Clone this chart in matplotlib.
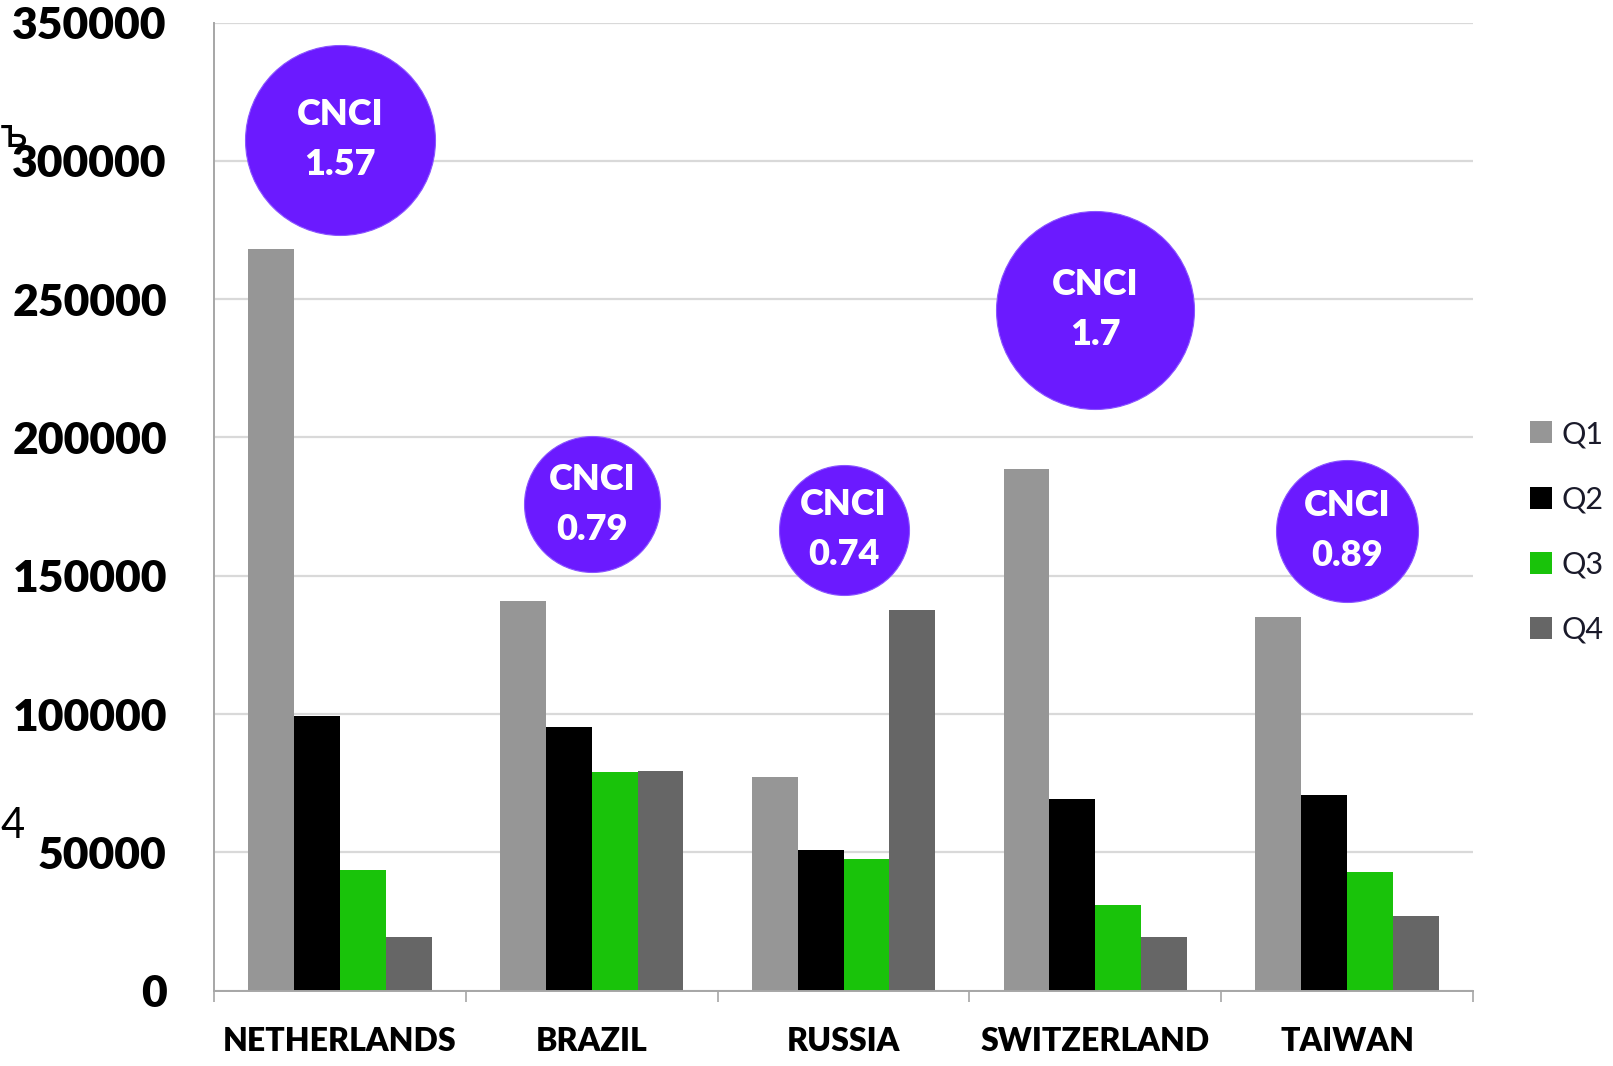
import numpy as np
import matplotlib.pyplot as plt

countries = ["NETHERLANDS", "BRAZIL", "RUSSIA", "SWITZERLAND", "TAIWAN"]
series = ["Q1", "Q2", "Q3", "Q4"]
q1 = [268000, 141000, 77200, 188500, 135000]
q2 = [99200, 95200, 50800, 69300, 70700]
q3 = [43600, 78900, 47600, 31000, 42900]
q4 = [19300, 79300, 137800, 19300, 27100]
cnci = ["1.57", "0.79", "0.74", "1.7", "0.89"]

# where the CNCI bubbles sit (data units) and how big they are (pixels)
bubble_y = [307600, 175800, 166700, 246200, 166300]
bubble_r = [95, 68, 65, 99, 71]

COLORS = ["#969696", "#000000", "#19C30A", "#666666"]
PURPLE = "#6B1AFF"
FONT = "Lato"
HEAVY = "heavy"
DPI = 100

fig = plt.figure(figsize=(16.13, 10.66), dpi=DPI)
ax = fig.add_axes([0.1327, 0.0707, 0.9132 - 0.1327, 0.9788 - 0.0707])

x = np.arange(len(countries))
bw = 0.182
for i, (vals, name) in enumerate(zip([q1, q2, q3, q4], series)):
    ax.bar(x + (i - 1.5) * bw, vals, width=bw, color=COLORS[i],
           label=name, zorder=2, linewidth=0)

ax.set_xlim(-0.5, len(countries) - 0.5)
ax.set_ylim(0, 350000)
ax.set_yticks(np.arange(0, 350001, 50000))
ax.set_yticklabels([f"{v}" for v in range(0, 350001, 50000)],
                   fontsize=32, fontweight=HEAVY, family=FONT)
ax.tick_params(axis="y", length=0, pad=34)
ax.grid(axis="y", color="#D9D9D9", linewidth=1.6, zorder=0)

ax.set_xticks(x)
ax.set_xticklabels(countries, fontsize=23, fontweight=HEAVY, family=FONT)
ax.set_xticks(np.arange(-0.5, len(countries)), minor=True)
ax.tick_params(axis="x", which="major", length=0, pad=26)
ax.tick_params(axis="x", which="minor", length=8, width=1.2, color="#A6A6A6")

for s in ["top", "right"]:
    ax.spines[s].set_visible(False)
for s in ["left", "bottom"]:
    ax.spines[s].set_color("#A6A6A6")
    ax.spines[s].set_linewidth(1.4)

# CNCI bubbles
for xi, yi, r, lab in zip(x, bubble_y, bubble_r, cnci):
    size = (2 * r * 72 / DPI) ** 2
    ax.scatter([xi], [yi], s=size, color=PURPLE, zorder=4,
               edgecolors="#8A55FF", linewidths=0.8, clip_on=False)
    ax.text(xi, yi, f"CNCI\n{lab}", ha="center", va="center",
            color="white", fontsize=26, fontweight=HEAVY, family=FONT,
            linespacing=1.62, zorder=5)

leg = ax.legend(loc="center left", bbox_to_anchor=(0.9485, 0.501),
                bbox_transform=fig.transFigure, frameon=False,
                prop={"family": FONT, "size": 22}, handlelength=0.72,
                handleheight=0.72, handletextpad=0.3, labelspacing=1.22,
                borderpad=0, borderaxespad=0)
for t in leg.get_texts():
    t.set_color("#1a1a2a")

# stray text fragments at the left edge of the original
fig.text(0.0, 1 - 136 / 1066, "ъ", fontsize=29, family="DejaVu Sans",
         ha="left", va="center")
fig.text(0.0, 1 - 826 / 1066, "4", fontsize=30, family=FONT,
         ha="left", va="center")

fig.savefig("out.png", dpi=DPI)
